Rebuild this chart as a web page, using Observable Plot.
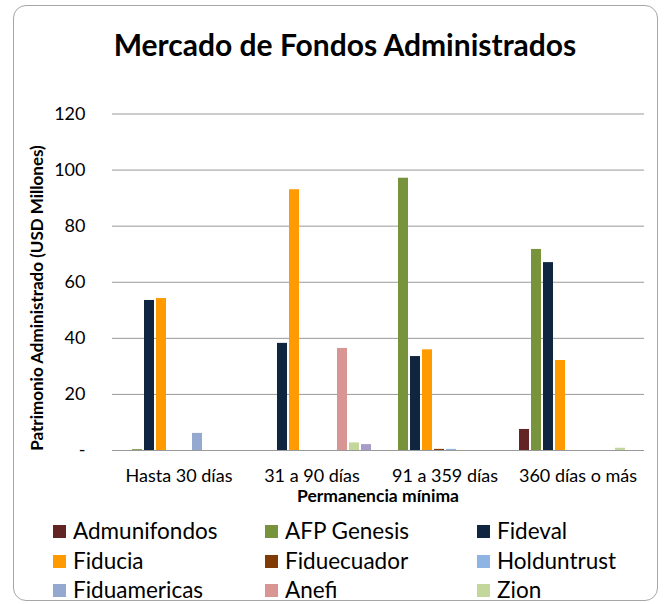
<!DOCTYPE html>
<html>
<head>
<meta charset="utf-8">
<script src="https://cdn.jsdelivr.net/npm/d3@7"></script>
<script src="https://cdn.jsdelivr.net/npm/@observablehq/plot@0.6"></script>
<style>
  html, body { margin: 0; padding: 0; background: #fff; }
  #wrap { position: relative; width: 665px; height: 604px; overflow: hidden; font-family: Lato, "Open Sans", sans-serif; color: #000; }
  #frame { position: absolute; left: 13px; top: 5px; width: 645px; height: 596px; border: 1.5px solid #a6a6a6; border-radius: 13px; box-sizing: border-box; }
  #chart { position: absolute; left: 0; top: 0; }
  .abs { position: absolute; white-space: nowrap; }
  #title { left: 345px; top: 26px; transform: translateX(-50%); font-size: 30px; font-weight: bold; line-height: 36px; }
  #ylab { left: 36px; top: 298px; transform: translate(-50%, -50%) rotate(-90deg); font-size: 17px; font-weight: bold; }
  #xlab { left: 378px; top: 495px; transform: translate(-50%, -50%); font-size: 17.5px; font-weight: bold; }
  .leg { position: absolute; display: flex; align-items: center; font-size: 22.5px; line-height: 26px; white-space: nowrap; transform: translateY(-50%); }
  .leg .sw { width: 13px; height: 13px; margin-right: 7px; flex: none; }
</style>
</head>
<body>
<div id="wrap">
  <div id="frame"></div>
  <div id="chart"></div>
  <div id="title" class="abs">Mercado de Fondos Administrados</div>
  <div id="ylab" class="abs">Patrimonio Administrado (USD Millones)</div>
  <div id="xlab" class="abs">Permanencia mínima</div>
</div>
<script>
// Categories (x axis) and series
const categories = ["Hasta 30 días", "31 a 90 días", "91 a 359 días", "360 días o más"];
const series = ["Admunifondos", "AFP Genesis", "Fideval", "Fiducia", "Fiduecuador", "Holduntrust", "Fiduamericas", "Anefi", "Zion", "Otros"];
const colors = ["#632523", "#77933c", "#10253f", "#ff9a00", "#7f3a06", "#8db4e2", "#95a9d0", "#d99594", "#c3d69b", "#a99bc9"];
// Legend entries visible in the reference (the 4th row is cut off there)
const legendShown = 9;

// Values per series, in the order of categories (USD millones)
const admunifondos = [0, 0, 0, 7.5];
const afpGenesis   = [0.3, 0, 97.1, 71.7];
const fideval      = [53.5, 38.2, 33.5, 67.0];
const fiducia      = [54.2, 93.0, 35.9, 32.1];
const fiduecuador  = [0, 0, 0.4, 0];
const holduntrust  = [0, 0, 0.4, 0];
const fiduamericas = [6.1, 0, 0, 0];
const anefi        = [0, 36.4, 0, 0];
const zion         = [0, 2.7, 0, 0.8];
const otros        = [0, 2.1, 0, 0];

// Y axis ticks
const yTicks = [0, 20, 40, 60, 80, 100, 120];

const seriesValues = [admunifondos, afpGenesis, fideval, fiducia, fiduecuador, holduntrust, fiduamericas, anefi, zion, otros];
const data = [];
series.forEach((s, i) => categories.forEach((c, j) => data.push({cat: c, series: s, value: seriesValues[i][j]})));

const chart = Plot.plot({
  width: 665,
  height: 510,
  marginTop: 113.5,
  marginBottom: 60,
  marginLeft: 112,
  marginRight: 21,
  style: {background: "transparent", fontFamily: "Lato, 'Open Sans', sans-serif", fontSize: "18px", color: "#000"},
  fx: {domain: categories, padding: 0, label: null, axis: "bottom", tickSize: 0, tickPadding: 19},
  x: {domain: series, paddingInner: 0.18, paddingOuter: 0.285, axis: null},
  y: {domain: [0, 120], ticks: yTicks, tickSize: 0, tickPadding: 27, tickFormat: d => d === 0 ? "-" : d, label: null},
  color: {domain: series, range: colors},
  marks: [
    Plot.ruleY(yTicks, {stroke: "#999999", strokeWidth: 1}),
    Plot.barY(data, {fx: "cat", x: "series", y: "value", fill: "series"})
  ]
});
document.getElementById("chart").appendChild(chart);

// Legend (3 columns)
const wrap = document.getElementById("wrap");
const colX = [53, 265, 477];
const rowY = [531, 561, 590];
series.slice(0, legendShown).forEach((s, i) => {
  const d = document.createElement("div");
  d.className = "leg";
  d.style.left = colX[i % 3] + "px";
  d.style.top = rowY[Math.floor(i / 3)] + "px";
  const sw = document.createElement("span");
  sw.className = "sw";
  sw.style.background = colors[i];
  const t = document.createElement("span");
  t.textContent = s;
  d.appendChild(sw);
  d.appendChild(t);
  wrap.appendChild(d);
});
</script>
</body>
</html>
